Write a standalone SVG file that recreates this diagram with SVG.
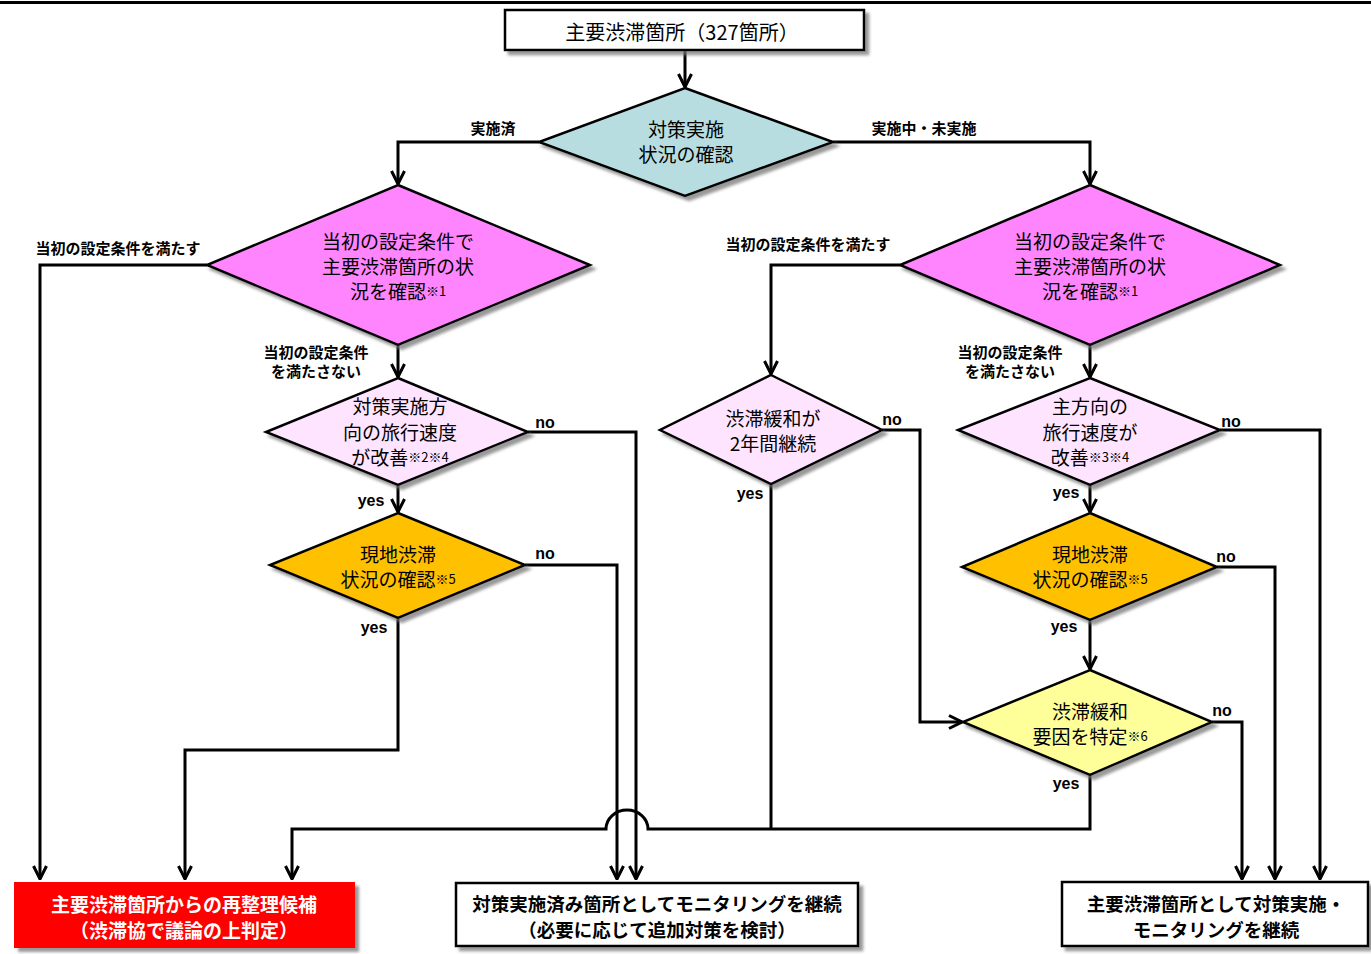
<svg xmlns="http://www.w3.org/2000/svg" width="1371" height="954" viewBox="0 0 1371 954">
<defs>
<filter id="sh" x="-10%" y="-10%" width="130%" height="140%">
<feDropShadow dx="4" dy="4" stdDeviation="1.5" flood-color="#777" flood-opacity="0.75"/>
</filter>
<marker id="arr" viewBox="0 0 16 16" refX="15" refY="8" markerWidth="16" markerHeight="16" markerUnits="userSpaceOnUse" orient="auto">
<path d="M2,1.5 L15,8 L2,14.5" fill="none" stroke="#000" stroke-width="3"/>
</marker>
</defs>
<style>
.node{stroke:#000;stroke-width:2.5;filter:url(#sh)}
.t{font-family:"Noto Sans CJK JP","Noto Sans",sans-serif;font-size:19px;text-anchor:middle;dominant-baseline:central;fill:#000}
.b{font-family:"Noto Sans CJK JP","Noto Sans",sans-serif;font-size:18.5px;font-weight:bold;text-anchor:middle;dominant-baseline:central}
.lab{font-family:"Noto Sans CJK JP","Noto Sans",sans-serif;font-size:15px;font-weight:bold;text-anchor:middle;dominant-baseline:central;fill:#000}
.yn{font-family:"Liberation Sans",Arial,sans-serif;font-size:16px;font-weight:bold;text-anchor:middle;dominant-baseline:central;fill:#000}
.sup{font-size:13px}
.c{fill:none;stroke:#000;stroke-width:3}
</style>
<rect width="1371" height="954" fill="#fff"/>
<path d="M0,2.5 H1371" stroke="#000" stroke-width="3"/>

<g id="connectors">
<path class="c" d="M685,50 V87" marker-end="url(#arr)"/>
<path class="c" d="M539,142 H398 V184" marker-end="url(#arr)"/>
<path class="c" d="M833,142 H1090 V184" marker-end="url(#arr)"/>
<path class="c" d="M207,265 H40 V879" marker-end="url(#arr)"/>
<path class="c" d="M398,345 V377" marker-end="url(#arr)"/>
<path class="c" d="M528,432 H636 V879" marker-end="url(#arr)"/>
<path class="c" d="M398,485 V512" marker-end="url(#arr)"/>
<path class="c" d="M525,565 H617 V879" marker-end="url(#arr)"/>
<path class="c" d="M398,618 V750 H185 V879" marker-end="url(#arr)"/>
<path class="c" d="M900,265 H771 V374" marker-end="url(#arr)"/>
<path class="c" d="M1090,345 V377" marker-end="url(#arr)"/>
<path class="c" d="M882,430 H920 V722 H962" marker-end="url(#arr)"/>
<path class="c" d="M771,484 V829"/>
<path class="c" d="M1220,430 H1320 V879" marker-end="url(#arr)"/>
<path class="c" d="M1090,485 V512" marker-end="url(#arr)"/>
<path class="c" d="M1217,567 H1275 V879" marker-end="url(#arr)"/>
<path class="c" d="M1090,620 V669" marker-end="url(#arr)"/>
<path class="c" d="M1212,722 H1242 V879" marker-end="url(#arr)"/>
<path class="c" d="M1090,775 V829 H648 A21,19 0 0 0 606,829 H292 V879" marker-end="url(#arr)"/>
<text class="lab" x="493" y="127">実施済</text>
<text class="lab" x="924" y="127">実施中・未実施</text>
<text class="lab" x="118" y="247">当初の設定条件を満たす</text>
<text class="lab" x="316" y="351">当初の設定条件</text>
<text class="lab" x="316" y="370">を満たさない</text>
<text class="lab" x="808" y="243">当初の設定条件を満たす</text>
<text class="lab" x="1010" y="351">当初の設定条件</text>
<text class="lab" x="1010" y="370">を満たさない</text>
<text class="yn" x="545" y="422">no</text>
<text class="yn" x="371" y="500">yes</text>
<text class="yn" x="545" y="553">no</text>
<text class="yn" x="374" y="627">yes</text>
<text class="yn" x="892" y="419">no</text>
<text class="yn" x="750" y="493">yes</text>
<text class="yn" x="1231" y="421">no</text>
<text class="yn" x="1066" y="492">yes</text>
<text class="yn" x="1226" y="556">no</text>
<text class="yn" x="1064" y="626">yes</text>
<text class="yn" x="1222" y="710">no</text>
<text class="yn" x="1066" y="783">yes</text>
</g>

<g id="start">
<rect class="node" x="505" y="10" width="359" height="40" fill="#fff"/>
<text class="t" x="682" y="31" style="font-size:20px">主要渋滞箇所（327箇所）</text>
</g>

<g id="d-status">
<polygon class="node" points="685,88 833,142 685,196 539,142" fill="#B7DDE1"/>
<text class="t" x="686" y="128">対策実施</text>
<text class="t" x="686" y="153">状況の確認</text>
</g>

<g id="d-cond-left">
<polygon class="node" points="398,185 590,265 398,345 207,265" fill="#FF85FF"/>
<text class="t" x="398" y="240">当初の設定条件で</text>
<text class="t" x="398" y="265">主要渋滞箇所の状</text>
<text class="t" x="398" y="290">況を確認<tspan class="sup">※1</tspan></text>
</g>

<g id="d-speed-left">
<polygon class="node" points="398,378 528,432 398,485 266,432" fill="#FFE4FF"/>
<text class="t" x="400" y="405">対策実施方</text>
<text class="t" x="400" y="431">向の旅行速度</text>
<text class="t" x="400" y="456">が改善<tspan class="sup">※2※4</tspan></text>
</g>

<g id="d-site-left">
<polygon class="node" points="398,513 525,565 398,618 270,565" fill="#FFC000"/>
<text class="t" x="398" y="553">現地渋滞</text>
<text class="t" x="398" y="578">状況の確認<tspan class="sup">※5</tspan></text>
</g>

<g id="d-cond-right">
<polygon class="node" points="1090,185 1280,265 1090,345 900,265" fill="#FF85FF"/>
<text class="t" x="1090" y="240">当初の設定条件で</text>
<text class="t" x="1090" y="265">主要渋滞箇所の状</text>
<text class="t" x="1090" y="290">況を確認<tspan class="sup">※1</tspan></text>
</g>

<g id="d-2years">
<polygon class="node" points="771,375 882,430 771,484 660,430" fill="#FFE4FF"/>
<text class="t" x="773" y="417">渋滞緩和が</text>
<text class="t" x="773" y="442">2年間継続</text>
</g>

<g id="d-speed-right">
<polygon class="node" points="1090,378 1220,430 1090,485 958,430" fill="#FFE4FF"/>
<text class="t" x="1090" y="405">主方向の</text>
<text class="t" x="1090" y="431">旅行速度が</text>
<text class="t" x="1090" y="456">改善<tspan class="sup">※3※4</tspan></text>
</g>

<g id="d-site-right">
<polygon class="node" points="1090,513 1217,567 1090,620 962,567" fill="#FFC000"/>
<text class="t" x="1090" y="553">現地渋滞</text>
<text class="t" x="1090" y="578">状況の確認<tspan class="sup">※5</tspan></text>
</g>

<g id="d-factor">
<polygon class="node" points="1090,670 1212,722 1090,775 963,722" fill="#FFFF99"/>
<text class="t" x="1090" y="710">渋滞緩和</text>
<text class="t" x="1090" y="735">要因を特定<tspan class="sup">※6</tspan></text>
</g>

<g id="out-candidate">
<rect x="14" y="882" width="341" height="66" fill="#FF0000" filter="url(#sh)"/>
<text class="b" x="184" y="903" fill="#fff" style="font-size:19px">主要渋滞箇所からの再整理候補</text>
<text class="b" x="184" y="929" fill="#fff" style="font-size:19px">（渋滞協で議論の上判定）</text>
</g>

<g id="out-monitor">
<rect class="node" x="456" y="883" width="402" height="63" fill="#fff"/>
<text class="b" x="657" y="903" fill="#000">対策実施済み箇所としてモニタリングを継続</text>
<text class="b" x="657" y="929" fill="#000">（必要に応じて追加対策を検討）</text>
</g>

<g id="out-continue">
<rect class="node" x="1062" y="882" width="306" height="64" fill="#fff"/>
<text class="b" x="1216" y="903" fill="#000">主要渋滞箇所として対策実施・</text>
<text class="b" x="1216" y="929" fill="#000">モニタリングを継続</text>
</g>
</svg>
